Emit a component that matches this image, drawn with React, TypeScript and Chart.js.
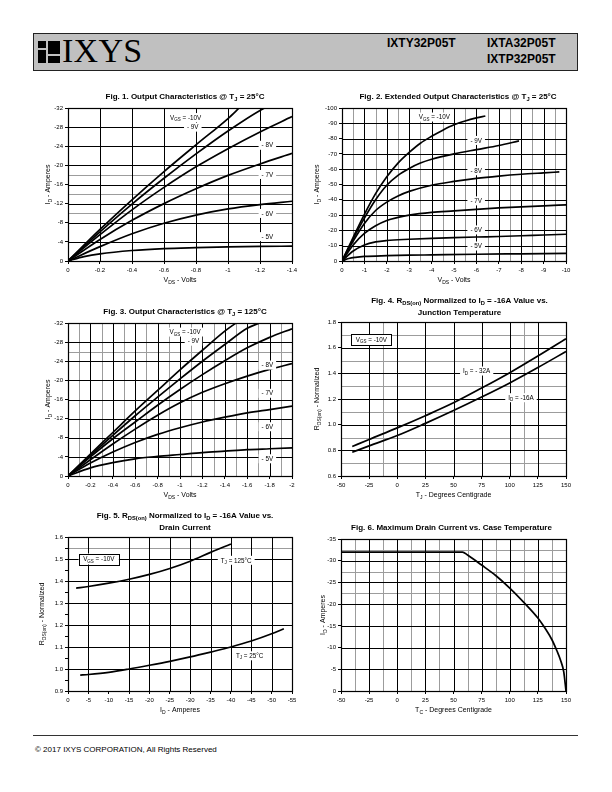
import React, { useEffect, useRef } from "react";
import { Chart, registerables } from "chart.js";

Chart.register(...registerables);

const SANS = '"Liberation Sans", Arial, Helvetica, sans-serif';
type P = [number, number];

// ---------------- DATA ----------------
// Fig. 1 — Output Characteristics @ TJ = 25°C
const fig1VdsTicks = [0, -0.2, -0.4, -0.6, -0.8, -1, -1.2, -1.4];
const fig1VdsLabels = ["0", "-0.2", "-0.4", "-0.6", "-0.8", "-1", "-1.2", "-1.4"];
const fig1IdTicks = [0, -4, -8, -12, -16, -20, -24, -28, -32];
const fig1IdLabels = ["0", "-4", "-8", "-12", "-16", "-20", "-24", "-28", "-32"];
const fig1GrayId = [-18, -14, -10];
const fig1Vgs10: P[] = [[0, 0], [-0.2, -6.6], [-0.4, -12.8], [-0.6, -18.7], [-0.8, -24.3], [-1.0, -29.8], [-1.07, -32]];
const fig1Vgs9: P[] = [[0, 0], [-0.2, -6.1], [-0.4, -11.9], [-0.6, -17.3], [-0.8, -22.4], [-1.0, -27.2], [-1.2, -31.5], [-1.23, -32]];
const fig1Vgs8: P[] = [[0, 0], [-0.2, -5.5], [-0.4, -10.7], [-0.6, -15.4], [-0.8, -19.7], [-1.0, -23.5], [-1.2, -27.0], [-1.4, -30.2]];
const fig1Vgs7: P[] = [[0, 0], [-0.2, -4.5], [-0.4, -8.5], [-0.6, -12.0], [-0.8, -15.1], [-1.0, -17.9], [-1.2, -20.3], [-1.4, -22.5]];
const fig1Vgs6: P[] = [[0, 0], [-0.2, -3.0], [-0.4, -5.7], [-0.6, -7.9], [-0.8, -9.6], [-1.0, -10.9], [-1.2, -11.8], [-1.4, -12.5]];
const fig1Vgs5: P[] = [[0, 0], [-0.1, -0.9], [-0.2, -1.5], [-0.4, -2.2], [-0.6, -2.6], [-0.8, -2.8], [-1.0, -2.95], [-1.2, -3.05], [-1.4, -3.1]];

// Fig. 2 — Extended Output Characteristics @ TJ = 25°C
const fig2VdsTicks = [0, -1, -2, -3, -4, -5, -6, -7, -8, -9, -10];
const fig2VdsLabels = ["0", "-1", "-2", "-3", "-4", "-5", "-6", "-7", "-8", "-9", "-10"];
const fig2GrayVds = [-0.5, -1.5, -2.5, -3.5, -4.5, -5.5, -6.5, -7.5, -8.5, -9.5];
const fig2IdTicks = [0, -10, -20, -30, -40, -50, -60, -70, -80, -90, -100];
const fig2IdLabels = ["0", "-10", "-20", "-30", "-40", "-50", "-60", "-70", "-80", "-90", "-100"];
const fig2Vgs10: P[] = [[0, 0], [-0.5, -15.5], [-1, -30.5], [-1.5, -44], [-2, -55], [-2.5, -64], [-3, -71], [-3.5, -77], [-4, -81.5], [-4.5, -85.5], [-5, -89], [-5.5, -91.5], [-6, -93.5], [-6.4, -94.8]];
const fig2Vgs9: P[] = [[0, 0], [-0.5, -14.5], [-1, -28], [-1.5, -40], [-2, -49.5], [-2.5, -56], [-3, -60.5], [-3.5, -64], [-4, -66.5], [-5, -70], [-6, -72.8], [-7, -75.5], [-7.9, -78.5]];
const fig2Vgs8: P[] = [[0, 0], [-0.5, -13], [-1, -24.5], [-1.5, -33], [-2, -38.5], [-2.5, -42.5], [-3, -45.5], [-4, -49.5], [-5, -52], [-6, -54], [-7, -55.5], [-8, -56.7], [-9, -57.6], [-9.7, -58.2]];
const fig2Vgs7: P[] = [[0, 0], [-0.5, -10.5], [-1, -18], [-1.5, -23], [-2, -26.5], [-2.5, -28.5], [-3, -30], [-4, -31.8], [-5, -32.8], [-6, -33.8], [-7, -34.7], [-8, -35.4], [-9, -36], [-10, -36.7]];
const fig2Vgs6: P[] = [[0, 0], [-0.5, -6.5], [-1, -10.5], [-1.5, -12.5], [-2, -13.4], [-3, -14.2], [-4, -14.8], [-5, -15.3], [-6, -15.7], [-7, -16], [-8, -16.5], [-9, -17], [-10, -17.5]];
const fig2Vgs5: P[] = [[0, 0], [-0.3, -1.6], [-0.6, -2.4], [-1, -3], [-2, -3.5], [-3, -3.8], [-4, -4], [-6, -4.4], [-8, -4.7], [-10, -5]];

// Fig. 3 — Output Characteristics @ TJ = 125°C
const fig3VdsTicks = [0, -0.2, -0.4, -0.6, -0.8, -1, -1.2, -1.4, -1.6, -1.8, -2];
const fig3VdsLabels = ["0", "-0.2", "-0.4", "-0.6", "-0.8", "-1", "-1.2", "-1.4", "-1.6", "-1.8", "-2"];
const fig3GrayVds = [-0.1, -0.3, -0.5, -0.7, -0.9, -1.1, -1.3, -1.5, -1.7, -1.9];
const fig3GrayId = [-26];
const fig3Vgs10: P[] = [[0, 0], [-0.2, -4.6], [-0.4, -9.1], [-0.6, -13.6], [-0.8, -17.9], [-1.0, -22.2], [-1.2, -26.3], [-1.4, -30.3], [-1.5, -32]];
const fig3Vgs9: P[] = [[0, 0], [-0.2, -4.3], [-0.4, -8.5], [-0.6, -12.6], [-0.8, -16.5], [-1.0, -20.3], [-1.2, -24.0], [-1.4, -27.5], [-1.6, -30.9], [-1.71, -32]];
const fig3Vgs8: P[] = [[0, 0], [-0.2, -4.0], [-0.4, -7.8], [-0.6, -11.3], [-0.8, -14.8], [-1.0, -18.1], [-1.2, -21.2], [-1.4, -24.1], [-1.6, -26.8], [-1.8, -29.0], [-2.0, -30.8]];
const fig3Vgs7: P[] = [[0, 0], [-0.2, -3.4], [-0.4, -6.7], [-0.6, -9.8], [-0.8, -12.7], [-1.0, -15.3], [-1.2, -17.5], [-1.4, -19.3], [-1.6, -20.9], [-1.8, -22.3], [-2.0, -23.5]];
const fig3Vgs6: P[] = [[0, 0], [-0.2, -2.7], [-0.4, -5.0], [-0.6, -7.0], [-0.8, -8.7], [-1.0, -10.1], [-1.2, -11.3], [-1.4, -12.3], [-1.6, -13.2], [-1.8, -13.9], [-2.0, -14.6]];
const fig3Vgs5: P[] = [[0, 0], [-0.2, -1.7], [-0.4, -2.8], [-0.6, -3.6], [-0.8, -4.1], [-1.0, -4.5], [-1.2, -4.9], [-1.4, -5.2], [-1.6, -5.5], [-1.8, -5.7], [-2.0, -5.9]];

// Fig. 4 — RDS(on) vs Junction Temperature
const fig4TjTicks = [-50, -25, 0, 25, 50, 75, 100, 125, 150];
const fig4TjLabels = ["-50", "-25", "0", "25", "50", "75", "100", "125", "150"];
const fig4GrayTj = [-12.5, 112.5];
const fig4RTicks = [0.6, 0.8, 1.0, 1.2, 1.4, 1.6, 1.8];
const fig4RLabels = ["0.6", "0.8", "1.0", "1.2", "1.4", "1.6", "1.8"];
const fig4GrayR = [0.7, 0.9, 1.1, 1.3, 1.5, 1.7];
const fig4Id32: P[] = [[-40, 0.83], [-25, 0.885], [0, 0.975], [25, 1.07], [50, 1.17], [75, 1.285], [100, 1.405], [125, 1.535], [150, 1.67]];
const fig4Id16: P[] = [[-40, 0.785], [-25, 0.835], [0, 0.915], [25, 1.01], [50, 1.11], [75, 1.215], [100, 1.325], [125, 1.445], [150, 1.57]];

// Fig. 5 — RDS(on) vs Drain Current
const fig5IdTicks = [0, -5, -10, -15, -20, -25, -30, -35, -40, -45, -50, -55];
const fig5IdLabels = ["0", "-5", "-10", "-15", "-20", "-25", "-30", "-35", "-40", "-45", "-50", "-55"];
const fig5BlackId = [-5, -15, -20, -25, -30, -35, -40, -45, -50];
const fig5RTicks = [0.9, 1.0, 1.1, 1.2, 1.3, 1.4, 1.5, 1.6];
const fig5RLabels = ["0.9", "1.0", "1.1", "1.2", "1.3", "1.4", "1.5", "1.6"];
const fig5RMinor = [0.95, 1.05, 1.15, 1.25, 1.35, 1.45, 1.55];
const fig5GrayR = [1.55];
const fig5Tj125: P[] = [[-2, 1.368], [-5, 1.375], [-10, 1.39], [-15, 1.408], [-20, 1.43], [-25, 1.457], [-30, 1.49], [-35, 1.53], [-40, 1.568]];
const fig5Tj25: P[] = [[-3, 0.972], [-5, 0.975], [-10, 0.985], [-15, 1.0], [-20, 1.017], [-25, 1.035], [-30, 1.055], [-35, 1.077], [-40, 1.1], [-45, 1.127], [-50, 1.16], [-53, 1.183]];

// Fig. 6 — Maximum Drain Current vs Case Temperature
const fig6TcTicks = [-50, -25, 0, 25, 50, 75, 100, 125, 150];
const fig6TcLabels = ["-50", "-25", "0", "25", "50", "75", "100", "125", "150"];
const fig6GrayTc = [-37.5, -12.5, 12.5, 37.5, 62.5, 87.5, 112.5, 137.5];
const fig6IdTicks = [0, -5, -10, -15, -20, -25, -30, -35];
const fig6IdLabels = ["0", "-5", "-10", "-15", "-20", "-25", "-30", "-35"];
const fig6GrayId = [-32.5, -27.5, -22.5];
const fig6Derating: P[] = [[-50, -32], [58, -32], [62.5, -31.3], [75, -29.0], [87.5, -26.6], [100, -23.7], [112.5, -20.4], [125, -16.8], [132, -14.2], [137.5, -11.8], [142, -9.2], [145, -7.2], [148, -4.4], [150, 0]];

// ---------------- RENDER HELPERS ----------------
const YW = 40, PT = 32, PR = 16, XH = 28;

interface Lbl { x: number; y: number; text: string; boxed?: boolean }
interface Ax { min: number; max: number; reverse: boolean; ticks: number[]; labels: string[]; minor?: number[]; black: number[]; gray: number[] }
interface Spec {
  plot: [number, number, number, number];
  x: Ax; y: Ax;
  series: P[][];
  labels: Lbl[];
  title: string[]; titleDx: number;
  xTitle: string; yTitle: string; yTitleDx: number;
}

function parseRich(s: string) {
  const out: { t: string; sub: boolean }[] = [];
  const re = /_\{([^}]*)\}/g;
  let last = 0;
  let m: RegExpExecArray | null;
  while ((m = re.exec(s))) {
    if (m.index > last) out.push({ t: s.slice(last, m.index), sub: false });
    out.push({ t: m[1], sub: true });
    last = m.index + m[0].length;
  }
  if (last < s.length) out.push({ t: s.slice(last), sub: false });
  return out;
}

function richWidth(ctx: CanvasRenderingContext2D, s: string, size: number, bold: boolean) {
  let w = 0;
  for (const seg of parseRich(s)) {
    ctx.font = `${bold ? "bold " : ""}${seg.sub ? size * 0.72 : size}px ${SANS}`;
    w += ctx.measureText(seg.t).width;
  }
  return w;
}

function drawRich(ctx: CanvasRenderingContext2D, s: string, x: number, y: number, size: number, bold: boolean, align: string) {
  const w = richWidth(ctx, s, size, bold);
  let cx = align === "center" ? x - w / 2 : align === "right" ? x - w : x;
  const base = y + size * 0.35;
  ctx.textAlign = "left";
  ctx.textBaseline = "alphabetic";
  ctx.fillStyle = "#000";
  for (const seg of parseRich(s)) {
    ctx.font = `${bold ? "bold " : ""}${seg.sub ? size * 0.72 : size}px ${SANS}`;
    ctx.fillText(seg.t, cx, seg.sub ? base + size * 0.22 : base);
    cx += ctx.measureText(seg.t).width;
  }
}

function makePlugin(spec: Spec) {
  return {
    id: "sheet",
    beforeDatasetsDraw(chart: any) {
      const { ctx, chartArea: a } = chart;
      const xs = chart.scales.x, ys = chart.scales.y;
      ctx.save();
      ctx.fillStyle = "#fff";
      ctx.fillRect(a.left, a.top, a.right - a.left, a.bottom - a.top);
      const v = (val: number, color: string) => {
        const p = Math.round(xs.getPixelForValue(val)) + 0.5;
        ctx.strokeStyle = color; ctx.lineWidth = 1;
        ctx.beginPath(); ctx.moveTo(p, a.top); ctx.lineTo(p, a.bottom); ctx.stroke();
      };
      const h = (val: number, color: string) => {
        const p = Math.round(ys.getPixelForValue(val)) + 0.5;
        ctx.strokeStyle = color; ctx.lineWidth = 1;
        ctx.beginPath(); ctx.moveTo(a.left, p); ctx.lineTo(a.right, p); ctx.stroke();
      };
      spec.x.gray.forEach((g) => v(g, "#9c9c9c"));
      spec.y.gray.forEach((g) => h(g, "#9c9c9c"));
      spec.x.black.forEach((g) => v(g, "#000"));
      spec.y.black.forEach((g) => h(g, "#000"));
      ctx.restore();
    },
    afterDatasetsDraw(chart: any) {
      const { ctx, chartArea: a } = chart;
      const xs = chart.scales.x, ys = chart.scales.y;
      ctx.save();
      ctx.strokeStyle = "#000";
      ctx.lineWidth = 1.2;
      ctx.strokeRect(Math.round(a.left) + 0.5, Math.round(a.top) + 0.5, Math.round(a.right - a.left), Math.round(a.bottom - a.top));
      const size = 6.3;
      for (const l of spec.labels) {
        const px = xs.getPixelForValue(l.x);
        const py = ys.getPixelForValue(l.y);
        const w = richWidth(ctx, l.text, size, false);
        const bw = w + (l.boxed ? 9 : 6), bh = l.boxed ? 11 : 9;
        ctx.fillStyle = "#fff";
        ctx.fillRect(px - bw / 2, py - bh / 2, bw, bh);
        if (l.boxed) {
          ctx.strokeStyle = "#000"; ctx.lineWidth = 1;
          ctx.strokeRect(Math.round(px - bw / 2) + 0.5, Math.round(py - bh / 2) + 0.5, Math.round(bw), bh);
        }
        drawRich(ctx, l.text, px, py, size, false, "center");
      }
      ctx.restore();
    },
    afterDraw(chart: any) {
      const { ctx, chartArea: a } = chart;
      ctx.save();
      const cx = (a.left + a.right) / 2;
      const n = spec.title.length;
      spec.title.forEach((t, i) => {
        const y = a.top - (n === 1 ? 12 : 22 - i * 12);
        drawRich(ctx, t, cx + spec.titleDx, y, 8, true, "center");
      });
      drawRich(ctx, spec.xTitle, cx, a.bottom + 19, 7, false, "center");
      ctx.translate(a.left - spec.yTitleDx, (a.top + a.bottom) / 2);
      ctx.rotate(-Math.PI / 2);
      drawRich(ctx, spec.yTitle, 0, 0, 7, false, "center");
      ctx.restore();
    },
  };
}

function axisOpts(ax: Ax, horizontal: boolean) {
  const all = [...ax.ticks, ...(ax.minor || [])];
  return {
    type: "linear",
    position: horizontal ? "bottom" : "left",
    min: ax.min,
    max: ax.max,
    reverse: ax.reverse,
    afterBuildTicks: (s: any) => {
      s.ticks = all.map((value) => ({ value }));
    },
    afterFit: (s: any) => {
      if (horizontal) s.height = XH; else s.width = YW;
    },
    ticks: {
      autoSkip: false,
      maxRotation: 0,
      minRotation: 0,
      padding: horizontal ? 3 : 2,
      color: "#000",
      font: { size: 6, family: SANS },
      callback: (val: number) => {
        const i = ax.ticks.findIndex((t) => Math.abs(t - val) < 1e-9);
        return i >= 0 ? ax.labels[i] : "";
      },
    },
    grid: { display: true, drawOnChartArea: false, drawTicks: true, tickLength: 3, color: "#000", tickColor: "#000", lineWidth: 1 },
    border: { display: false },
  };
}

function Fig({ spec }: { spec: Spec }) {
  const ref = useRef<HTMLCanvasElement>(null);
  const [L, T, R, B] = spec.plot;
  const W = YW + (R - L) + PR;
  const H = PT + (B - T) + XH;
  useEffect(() => {
    const chart = new Chart(ref.current as HTMLCanvasElement, {
      type: "scatter",
      data: {
        datasets: spec.series.map((pts) => ({
          data: pts.map(([x, y]) => ({ x, y })),
          showLine: true,
          borderColor: "#000",
          backgroundColor: "#000",
          borderWidth: 1.7,
          pointRadius: 0,
          pointHoverRadius: 0,
          cubicInterpolationMode: "monotone",
          fill: false,
        })),
      },
      options: {
        animation: false,
        responsive: false,
        maintainAspectRatio: false,
        devicePixelRatio: 1,
        events: [],
        layout: { padding: { left: 0, top: PT, right: PR, bottom: 0 }, autoPadding: false },
        plugins: { legend: { display: false }, tooltip: { enabled: false }, title: { display: false } },
        scales: { x: axisOpts(spec.x, true), y: axisOpts(spec.y, false) },
      } as any,
      plugins: [makePlugin(spec) as any],
    });
    return () => chart.destroy();
  }, []);
  return (
    <canvas
      ref={ref}
      width={W}
      height={H}
      style={{ position: "absolute", left: L - YW, top: T - PT, width: W, height: H }}
    />
  );
}

const vgsLbl = "V_{GS} = -10V";

const specs: Spec[] = [
  {
    plot: [68, 108, 292, 261],
    x: { min: -1.4, max: 0, reverse: true, ticks: fig1VdsTicks, labels: fig1VdsLabels, black: fig1VdsTicks, gray: [] },
    y: { min: -32, max: 0, reverse: true, ticks: fig1IdTicks, labels: fig1IdLabels, black: fig1IdTicks, gray: fig1GrayId },
    series: [fig1Vgs10, fig1Vgs9, fig1Vgs8, fig1Vgs7, fig1Vgs6, fig1Vgs5],
    labels: [
      { x: -0.735, y: -30, text: vgsLbl },
      { x: -0.78, y: -28, text: "- 9V" },
      { x: -1.246, y: -24.2, text: "- 8V" },
      { x: -1.246, y: -18.1, text: "- 7V" },
      { x: -1.246, y: -9.95, text: "- 6V" },
      { x: -1.246, y: -5.1, text: "- 5V" },
    ],
    title: ["Fig. 1. Output Characteristics @ T_{J} = 25°C"], titleDx: 5,
    xTitle: "V_{DS} - Volts", yTitle: "I_{D} - Amperes", yTitleDx: 20,
  },
  {
    plot: [342, 108, 566, 261],
    x: { min: -10, max: 0, reverse: true, ticks: fig2VdsTicks, labels: fig2VdsLabels, black: fig2VdsTicks, gray: fig2GrayVds },
    y: { min: -100, max: 0, reverse: true, ticks: fig2IdTicks, labels: fig2IdLabels, black: fig2IdTicks, gray: [] },
    series: [fig2Vgs10, fig2Vgs9, fig2Vgs8, fig2Vgs7, fig2Vgs6, fig2Vgs5],
    labels: [
      { x: -4.12, y: -94.1, text: vgsLbl },
      { x: -5.99, y: -78.8, text: "- 9V" },
      { x: -5.99, y: -59, text: "- 8V" },
      { x: -5.99, y: -39.3, text: "- 7V" },
      { x: -5.99, y: -20.3, text: "- 6V" },
      { x: -5.99, y: -9.8, text: "- 5V" },
    ],
    title: ["Fig. 2. Extended Output Characteristics @ T_{J} = 25°C"], titleDx: 4,
    xTitle: "V_{DS} - Volts", yTitle: "I_{D} - Amperes", yTitleDx: 25,
  },
  {
    plot: [68, 323, 292, 476],
    x: { min: -2, max: 0, reverse: true, ticks: fig3VdsTicks, labels: fig3VdsLabels, black: fig3VdsTicks, gray: fig3GrayVds },
    y: { min: -32, max: 0, reverse: true, ticks: fig1IdTicks, labels: fig1IdLabels, black: fig1IdTicks, gray: fig3GrayId },
    series: [fig3Vgs10, fig3Vgs9, fig3Vgs8, fig3Vgs7, fig3Vgs6, fig3Vgs5],
    labels: [
      { x: -1.045, y: -30.1, text: vgsLbl },
      { x: -1.12, y: -28.2, text: "- 9V" },
      { x: -1.78, y: -23.2, text: "- 8V" },
      { x: -1.78, y: -17.3, text: "- 7V" },
      { x: -1.78, y: -10.3, text: "- 6V" },
      { x: -1.78, y: -3.6, text: "- 5V" },
    ],
    title: ["Fig. 3. Output Characteristics @ T_{J} = 125°C"], titleDx: 5,
    xTitle: "V_{DS} - Volts", yTitle: "I_{D} - Amperes", yTitleDx: 20,
  },
  {
    plot: [341, 322, 566, 476],
    x: { min: -50, max: 150, reverse: false, ticks: fig4TjTicks, labels: fig4TjLabels, black: fig4TjTicks, gray: fig4GrayTj },
    y: { min: 0.6, max: 1.8, reverse: false, ticks: fig4RTicks, labels: fig4RLabels, black: fig4RTicks, gray: fig4GrayR },
    series: [fig4Id32, fig4Id16],
    labels: [
      { x: -23, y: 1.662, text: vgsLbl, boxed: true },
      { x: 70.6, y: 1.418, text: "I_{D} = - 32A" },
      { x: 110, y: 1.21, text: "I_{D} = -16A" },
    ],
    title: ["Fig. 4. R_{DS(on)} Normalized to I_{D} = -16A Value vs.", "Junction Temperature"], titleDx: 6,
    xTitle: "T_{J} - Degrees Centigrade", yTitle: "R_{DS(on)} - Normalized", yTitleDx: 24,
  },
  {
    plot: [68, 537, 292, 691],
    x: { min: -55, max: 0, reverse: true, ticks: fig5IdTicks, labels: fig5IdLabels, black: fig5BlackId, gray: [] },
    y: { min: 0.9, max: 1.6, reverse: false, ticks: fig5RTicks, labels: fig5RLabels, minor: fig5RMinor, black: fig5RTicks, gray: fig5GrayR },
    series: [fig5Tj125, fig5Tj25],
    labels: [
      { x: -7.55, y: 1.5, text: vgsLbl, boxed: true },
      { x: -41.3, y: 1.494, text: "T_{J} = 125°C" },
      { x: -44.6, y: 1.06, text: "T_{J} = 25°C" },
    ],
    title: ["Fig. 5. R_{DS(on)} Normalized to I_{D} = -16A Value vs.", "Drain Current"], titleDx: 5,
    xTitle: "I_{D} - Amperes", yTitle: "R_{DS(on)} - Normalized", yTitleDx: 26,
  },
  {
    plot: [341, 539, 566, 691],
    x: { min: -50, max: 150, reverse: false, ticks: fig6TcTicks, labels: fig6TcLabels, black: fig6TcTicks, gray: fig6GrayTc },
    y: { min: -35, max: 0, reverse: true, ticks: fig6IdTicks, labels: fig6IdLabels, black: fig6IdTicks, gray: fig6GrayId },
    series: [fig6Derating],
    labels: [],
    title: ["Fig. 6. Maximum Drain Current vs. Case Temperature"], titleDx: -2,
    xTitle: "T_{C} - Degrees Centigrade", yTitle: "I_{D} - Amperes", yTitleDx: 18,
  },
];

function Logo() {
  const blk = (l: number, t: number, w: number, h: number) => (
    <div style={{ position: "absolute", left: l, top: t, width: w, height: h, background: "#000" }} />
  );
  return (
    <div style={{ position: "absolute", left: 38, top: 41, width: 22, height: 22 }}>
      {blk(0, 0, 8, 7)}
      {blk(10, 0, 12, 13)}
      {blk(0, 9, 8, 13)}
      {blk(10, 15, 12, 7)}
    </div>
  );
}

export default function App() {
  const model: React.CSSProperties = { position: "absolute", font: `bold 12px ${SANS}`, color: "#000", lineHeight: "12px", whiteSpace: "nowrap" };
  return (
    <div style={{ position: "absolute", left: 0, top: 0, width: 612, height: 792, background: "#fff", overflow: "hidden" }}>
      <div style={{ position: "absolute", left: 33, top: 33, width: 545, height: 38, background: "#c0c0c0", border: "1.5px solid #222", boxSizing: "border-box" }} />
      <Logo />
      <div style={{ position: "absolute", left: 62, top: 33, font: '34px "Liberation Serif", "Times New Roman", serif', lineHeight: "36px", color: "#000", letterSpacing: "0.3px" }}>IXYS</div>
      <div style={{ ...model, left: 387, top: 37 }}>IXTY32P05T</div>
      <div style={{ ...model, left: 487, top: 37 }}>IXTA32P05T</div>
      <div style={{ ...model, left: 487, top: 53 }}>IXTP32P05T</div>
      {specs.map((s, i) => (
        <Fig key={i} spec={s} />
      ))}
      <div style={{ position: "absolute", left: 33, top: 735, width: 545, height: 1, background: "#333" }} />
      <div style={{ position: "absolute", left: 35, top: 745, font: `8px ${SANS}`, lineHeight: "9px", color: "#000", whiteSpace: "nowrap" }}>
        © 2017 IXYS CORPORATION, All Rights Reserved
      </div>
    </div>
  );
}
